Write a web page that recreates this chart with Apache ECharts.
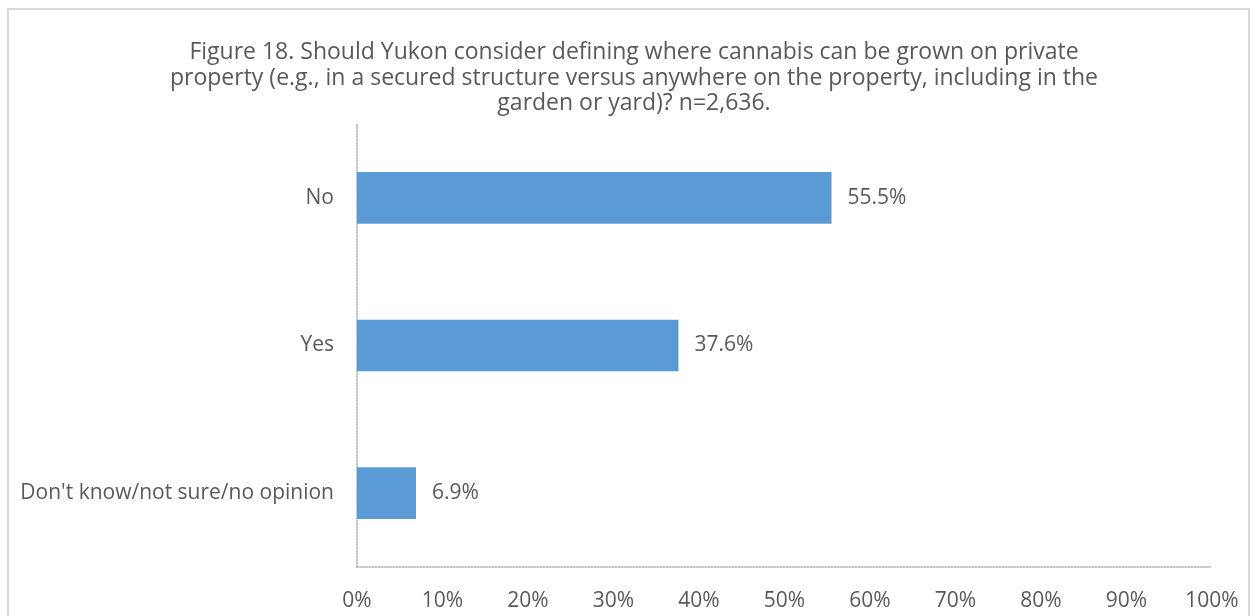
<!DOCTYPE html>
<html>
<head>
<meta charset="utf-8">
<script src="https://cdn.jsdelivr.net/npm/echarts@6/dist/echarts.min.js"></script>
<style>
  html, body { margin: 0; padding: 0; background: #fff; }
  #frame { position: absolute; left: 7px; top: 8px; width: 1243px; height: 620px; border: 2px solid #d9d9d9; box-sizing: border-box; }
  #chart { position: absolute; left: 0; top: 0; width: 1258px; height: 616px; }
</style>
</head>
<body>
<div id="frame"></div>
<div id="chart"></div>
<script>
// Survey responses, percent of respondents
const categories = ["Don't know/not sure/no opinion", "Yes", "No"];
const shares = [6.9, 37.6, 55.5];
const titleText = "Figure 18. Should Yukon consider defining where cannabis can be grown on private\nproperty (e.g., in a secured structure versus anywhere on the property, including in the\ngarden or yard)? n=2,636.";

const FONT = "'Open Sans', sans-serif";
const TEXT = '#595959';

const chart = echarts.init(document.getElementById('chart'), null, { renderer: 'canvas' });
chart.setOption({
  animation: false,
  backgroundColor: 'transparent',
  title: {
    text: titleText,
    left: 629,
    top: 35,
    textAlign: 'center',
    textStyle: { fontFamily: FONT, fontSize: 23, fontWeight: 'normal', color: TEXT, lineHeight: 25.5, align: 'center' }
  },
  grid: { left: 357, right: 46, top: 124, bottom: 49, containLabel: false },
  xAxis: {
    type: 'value',
    min: 0,
    max: 100,
    interval: 10,
    axisLine: { show: true, lineStyle: { color: '#b0b0b0', width: 1.5, type: [1.5, 1.5] } },
    axisTick: { show: false },
    splitLine: { show: false },
    axisLabel: { formatter: '{value}%', margin: 24, fontFamily: FONT, fontSize: 21, color: TEXT }
  },
  yAxis: {
    type: 'category',
    data: categories,
    axisLine: { show: true, lineStyle: { color: '#b0b0b0', width: 1.5, type: [1.5, 1.5] } },
    axisTick: { show: false },
    axisLabel: { margin: 23, fontFamily: FONT, fontSize: 21, color: TEXT }
  },
  series: [{
    type: 'bar',
    data: shares,
    barWidth: '35%',
    itemStyle: { color: '#5b9bd5' },
    label: {
      show: true,
      position: 'right',
      distance: 16,
      formatter: p => p.value.toFixed(1) + '%',
      fontFamily: FONT,
      fontSize: 21,
      color: TEXT
    }
  }]
});
</script>
</body>
</html>
